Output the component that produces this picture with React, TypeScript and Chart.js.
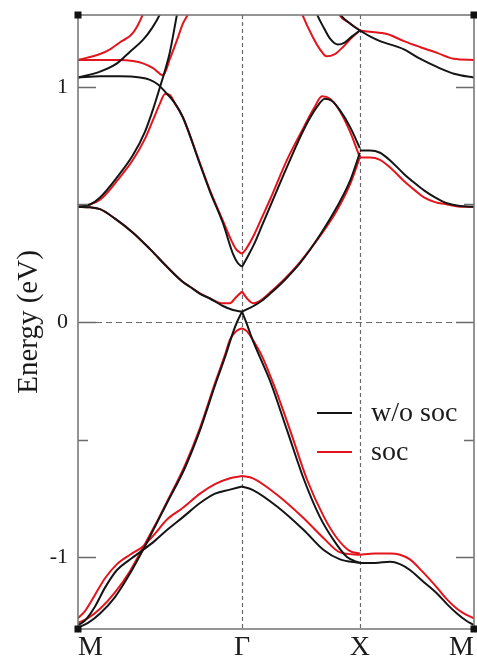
import React, { useEffect, useRef } from 'react';
import { Chart, registerables } from 'chart.js';

Chart.register(...registerables);

// ---- axes ----
const kPoints = [0, 1.414, 2.43, 3.414];
const kLabels = ['M', 'Γ', 'X', 'M'];
const yMin = -1.306;
const yMax = 1.306;
const yTickValues = [-1, 0, 1];
const yMinorValues = [-0.5, 0.5];
const yTitle = 'Energy (eV)';
const legendNames = ['w/o soc', 'soc'];
const seriesColors = ['#151515', '#e3141c'];

// ---- bands without SOC: [k, E] ----
const nsMG1 = [[0, 1.04], [0.19, 1.045], [0.362, 1.045], [0.535, 1.04], [0.621, 1.03], [0.69, 1.01], [0.75, 0.98], [0.836, 0.93], [0.905, 0.87], [1.052, 0.67], [1.138, 0.555], [1.25, 0.42], [1.336, 0.29], [1.379, 0.25], [1.414, 0.235]];
const nsMG2 = [[0, 0.49], [0.103, 0.5], [0.19, 0.53], [0.336, 0.615], [0.474, 0.71], [0.578, 0.81], [0.647, 0.905], [0.707, 1.0], [0.75, 1.07], [0.793, 1.15], [0.854, 1.31], [0.87, 1.35]];
const nsMG3 = [[0, 1.04], [0.19, 1.065], [0.336, 1.1], [0.448, 1.15], [0.56, 1.2], [0.638, 1.25], [0.707, 1.31], [0.73, 1.34]];
const nsMG4 = [[0, 0.49], [0.103, 0.488], [0.19, 0.48], [0.319, 0.44], [0.474, 0.38], [0.621, 0.31], [0.767, 0.235], [0.905, 0.17], [0.965, 0.15], [1.052, 0.12], [1.138, 0.1], [1.25, 0.068], [1.336, 0.051], [1.414, 0.044]];
const nsMGv1 = [[0, -1.3], [0.086, -1.28], [0.19, -1.24], [0.319, -1.17], [0.448, -1.07], [0.56, -0.97], [0.664, -0.87], [0.767, -0.77], [0.922, -0.62], [1.052, -0.46], [1.181, -0.27], [1.267, -0.15], [1.336, -0.045], [1.371, 0.0], [1.414, 0.044]];
const nsMGv2 = [[0, -1.29], [0.06, -1.27], [0.147, -1.21], [0.233, -1.13], [0.336, -1.055], [0.448, -1.01], [0.56, -0.97], [0.664, -0.93], [0.767, -0.885], [0.905, -0.83], [1.052, -0.77], [1.181, -0.73], [1.31, -0.713], [1.414, -0.7]];
const nsGX1 = [[1.414, 0.044], [1.483, 0.06], [1.569, 0.085], [1.655, 0.12], [1.785, 0.18], [1.914, 0.25], [2.086, 0.37], [2.233, 0.49], [2.345, 0.6], [2.43, 0.72]];
const nsGX2 = [[1.414, 0.235], [1.448, 0.265], [1.517, 0.33], [1.586, 0.41], [1.655, 0.49], [1.802, 0.66], [1.948, 0.82], [2.06, 0.915], [2.129, 0.95], [2.19, 0.94], [2.259, 0.9], [2.345, 0.83], [2.43, 0.74]];
const nsGX3 = [[2.04, 1.34], [2.06, 1.31], [2.121, 1.25], [2.173, 1.205], [2.241, 1.18], [2.302, 1.19], [2.362, 1.215], [2.43, 1.24]];
const nsGX4 = [[2.24, 1.33], [2.259, 1.31], [2.345, 1.27], [2.43, 1.24]];
const nsGXv1 = [[1.414, 0.044], [1.457, -0.01], [1.5, -0.07], [1.586, -0.17], [1.655, -0.25], [1.802, -0.46], [1.948, -0.67], [2.086, -0.83], [2.207, -0.93], [2.319, -1.0], [2.43, -1.025]];
const nsGXv2 = [[1.414, -0.7], [1.509, -0.715], [1.716, -0.785], [1.946, -0.885], [2.118, -0.97], [2.259, -1.01], [2.43, -1.025]];
const nsXM1 = [[2.43, 1.24], [2.517, 1.215], [2.604, 1.195], [2.81, 1.16], [2.948, 1.12], [3.095, 1.085], [3.25, 1.055], [3.414, 1.04]];
const nsXM2 = [[2.43, 0.73], [2.517, 0.73], [2.604, 0.72], [2.707, 0.68], [2.81, 0.63], [2.905, 0.59], [2.983, 0.56], [3.078, 0.53], [3.181, 0.505], [3.293, 0.493], [3.414, 0.49]];
const nsXMv = [[2.43, -1.025], [2.56, -1.025], [2.69, -1.02], [2.776, -1.03], [2.862, -1.055], [2.966, -1.1], [3.095, -1.155], [3.181, -1.2], [3.267, -1.24], [3.345, -1.27], [3.414, -1.29]];

// ---- bands with SOC: [k, E] ----
const sMG1 = [[0, 1.115], [0.19, 1.14], [0.276, 1.16], [0.362, 1.19], [0.474, 1.23], [0.56, 1.31], [0.58, 1.34]];
const sMG2 = [[0, 1.115], [0.19, 1.115], [0.362, 1.115], [0.474, 1.11], [0.56, 1.1], [0.647, 1.08], [0.733, 1.05], [0.793, 1.12], [0.854, 1.2], [0.905, 1.27], [0.948, 1.31], [0.97, 1.34]];
const sMG3 = [[0, 0.49], [0.103, 0.5], [0.19, 0.52], [0.336, 0.6], [0.474, 0.69], [0.578, 0.78], [0.647, 0.86], [0.707, 0.93], [0.75, 0.97], [0.793, 0.965], [0.836, 0.93], [0.905, 0.87], [1.052, 0.675], [1.138, 0.56], [1.25, 0.43], [1.31, 0.36], [1.362, 0.31], [1.414, 0.29]];
const sMG4 = [[0, 0.49], [0.103, 0.488], [0.19, 0.48], [0.319, 0.44], [0.474, 0.38], [0.621, 0.31], [0.767, 0.235], [0.905, 0.17], [0.965, 0.15], [1.052, 0.122], [1.138, 0.1], [1.241, 0.08], [1.31, 0.08], [1.362, 0.105], [1.414, 0.13]];
const sMGv1 = [[0, -1.28], [0.086, -1.26], [0.19, -1.22], [0.319, -1.15], [0.448, -1.06], [0.56, -0.96], [0.664, -0.865], [0.767, -0.765], [0.922, -0.61], [1.052, -0.45], [1.181, -0.26], [1.267, -0.14], [1.31, -0.075], [1.362, -0.04], [1.414, -0.026]];
const sMGv2 = [[0, -1.26], [0.06, -1.23], [0.147, -1.16], [0.233, -1.09], [0.336, -1.03], [0.448, -0.99], [0.56, -0.955], [0.664, -0.9], [0.767, -0.84], [0.905, -0.79], [1.052, -0.73], [1.181, -0.69], [1.31, -0.665], [1.414, -0.655]];
const sGX1 = [[1.414, 0.13], [1.457, 0.1], [1.509, 0.08], [1.569, 0.09], [1.655, 0.125], [1.785, 0.185], [1.914, 0.255], [2.086, 0.365], [2.233, 0.475], [2.345, 0.585], [2.43, 0.7]];
const sGX2 = [[1.414, 0.29], [1.448, 0.31], [1.517, 0.37], [1.586, 0.445], [1.655, 0.52], [1.802, 0.69], [1.948, 0.83], [2.035, 0.91], [2.104, 0.96], [2.173, 0.95], [2.241, 0.91], [2.345, 0.81], [2.43, 0.7]];
const sGX3 = [[1.91, 1.34], [1.932, 1.31], [2.026, 1.21], [2.086, 1.16], [2.143, 1.13], [2.215, 1.14], [2.285, 1.17], [2.362, 1.21], [2.43, 1.24]];
const sGX4 = [[2.23, 1.34], [2.25, 1.31], [2.345, 1.27], [2.43, 1.24]];
const sGXv1 = [[1.414, -0.026], [1.457, -0.04], [1.5, -0.07], [1.586, -0.145], [1.69, -0.27], [1.828, -0.46], [1.974, -0.67], [2.121, -0.83], [2.233, -0.92], [2.345, -0.975], [2.43, -0.985]];
const sGXv2 = [[1.414, -0.655], [1.509, -0.665], [1.716, -0.735], [1.946, -0.835], [2.118, -0.92], [2.259, -0.98], [2.43, -0.99]];
const sXM1 = [[2.43, 1.24], [2.517, 1.235], [2.664, 1.225], [2.81, 1.195], [2.948, 1.17], [3.095, 1.145], [3.24, 1.12], [3.414, 1.115]];
const sXM2 = [[2.43, 0.7], [2.517, 0.7], [2.604, 0.69], [2.707, 0.65], [2.81, 0.6], [2.905, 0.56], [2.983, 0.53], [3.078, 0.51], [3.181, 0.5], [3.293, 0.49], [3.414, 0.49]];
const sXMv = [[2.43, -0.99], [2.56, -0.985], [2.69, -0.985], [2.776, -0.99], [2.862, -1.01], [2.966, -1.06], [3.095, -1.13], [3.181, -1.18], [3.267, -1.22], [3.345, -1.245], [3.414, -1.26]];

const noSocBands = [nsMG1, nsMG2, nsMG3, nsMG4, nsMGv1, nsMGv2, nsGX1, nsGX2, nsGX3, nsGX4, nsGXv1, nsGXv2, nsXM1, nsXM2, nsXMv];
const socBands = [sMG1, sMG2, sMG3, sMG4, sMGv1, sMGv2, sGX1, sGX2, sGX3, sGX4, sGXv1, sGXv2, sXM1, sXM2, sXMv];

const SERIF = '"Liberation Serif", "Times New Roman", "DejaVu Serif", serif';

const framePlugin = {
  id: 'bandFrame',
  beforeDatasetsDraw(chart: any) {
    const { ctx, chartArea: a, scales } = chart;
    const x = scales.x;
    const y = scales.y;
    ctx.save();
    ctx.strokeStyle = '#6a6a6a';
    ctx.lineWidth = 1.2;
    ctx.setLineDash([4, 3]);
    [kPoints[1], kPoints[2]].forEach((k) => {
      const px = Math.round(x.getPixelForValue(k)) + 0.5;
      ctx.beginPath();
      ctx.moveTo(px, a.top);
      ctx.lineTo(px, a.bottom);
      ctx.stroke();
    });
    ctx.setLineDash([6, 4]);
    const py = Math.round(y.getPixelForValue(0)) + 0.5;
    ctx.beginPath();
    ctx.moveTo(a.left + 18, py);
    ctx.lineTo(a.right - 18, py);
    ctx.stroke();
    ctx.restore();
  },
  afterDraw(chart: any) {
    const { ctx, chartArea: a, scales } = chart;
    const y = scales.y;
    ctx.save();
    // inner ticks
    ctx.strokeStyle = '#6a6a6a';
    ctx.lineWidth = 1.5;
    const drawTick = (v: number, len: number) => {
      const py = Math.round(y.getPixelForValue(v)) + 0.5;
      ctx.beginPath();
      ctx.moveTo(a.left, py);
      ctx.lineTo(a.left + len, py);
      ctx.moveTo(a.right, py);
      ctx.lineTo(a.right - len, py);
      ctx.stroke();
    };
    yTickValues.forEach((v) => drawTick(v, 18));
    yMinorValues.forEach((v) => drawTick(v, 10));
    // frame
    ctx.lineWidth = 1.6;
    ctx.strokeStyle = '#7a7a7a';
    ctx.strokeRect(a.left, a.top, a.right - a.left, a.bottom - a.top);
    // corner markers
    ctx.fillStyle = '#111';
    [[a.left, a.top], [a.right, a.top], [a.left, a.bottom], [a.right, a.bottom]].forEach(([cx, cy]) => {
      ctx.fillRect(cx - 3.5, cy - 3.5, 7, 7);
    });
    // legend
    ctx.font = `28px ${SERIF}`;
    ctx.textBaseline = 'alphabetic';
    ctx.textAlign = 'left';
    legendNames.forEach((name, i) => {
      const ly = a.top + 398 + i * 39;
      ctx.strokeStyle = seriesColors[i];
      ctx.lineWidth = 2;
      ctx.beginPath();
      ctx.moveTo(a.left + 239, ly);
      ctx.lineTo(a.left + 274, ly);
      ctx.stroke();
      ctx.fillStyle = '#1a1a1a';
      ctx.fillText(name, a.left + 293, ly + 8);
    });
    ctx.restore();
  },
};

function makeDatasets() {
  const ds: any[] = [];
  const groups = [noSocBands, socBands];
  groups.forEach((bands, gi) => {
    bands.forEach((band) => {
      ds.push({
        label: legendNames[gi],
        data: band.map(([k, e]) => ({ x: k, y: e })),
        borderColor: seriesColors[gi],
        borderWidth: 2,
        pointRadius: 0,
        fill: false,
        cubicInterpolationMode: 'monotone',
      });
    });
  });
  return ds;
}

export default function App() {
  const ref = useRef<HTMLCanvasElement | null>(null);
  useEffect(() => {
    if (!ref.current) return;
    const chart = new Chart(ref.current, {
      type: 'line',
      data: { datasets: makeDatasets() },
      options: {
        responsive: false,
        animation: false,
        layout: { padding: { top: 15, right: 3, left: 0, bottom: 0 } },
        plugins: { legend: { display: false }, tooltip: { enabled: false } },
        scales: {
          x: {
            type: 'linear',
            min: kPoints[0],
            max: kPoints[kPoints.length - 1],
            afterBuildTicks: (scale: any) => {
              scale.ticks = kPoints.map((v) => ({ value: v }));
            },
            afterFit: (scale: any) => {
              scale.height = 30;
              scale.paddingLeft = 0;
              scale.paddingRight = 0;
            },
            grid: { display: false, drawTicks: false },
            border: { display: false },
            ticks: {
              autoSkip: false,
              maxRotation: 0,
              align: 'inner',
              padding: 2,
              color: '#1a1a1a',
              font: { family: SERIF, size: 28 },
              callback: (_v: any, i: number) => kLabels[i],
            },
          },
          y: {
            type: 'linear',
            min: yMin,
            max: yMax,
            afterBuildTicks: (scale: any) => {
              scale.ticks = yTickValues.map((v) => ({ value: v }));
            },
            afterFit: (scale: any) => {
              scale.width = 78;
              scale.paddingTop = 0;
              scale.paddingBottom = 0;
            },
            grid: { display: false, drawTicks: false },
            border: { display: false },
            ticks: {
              padding: 10,
              color: '#1a1a1a',
              font: { family: SERIF, size: 22 },
              callback: (v: any) => String(v),
            },
            title: {
              display: true,
              text: yTitle,
              color: '#1a1a1a',
              font: { family: SERIF, size: 29 },
              padding: { top: 12, bottom: 0 },
            },
          },
        },
      } as any,
      plugins: [framePlugin],
    });
    return () => chart.destroy();
  }, []);
  return (
    <div style={{ position: 'absolute', left: 0, top: 0, width: 477, height: 659, background: '#fff' }}>
      <canvas ref={ref} width={477} height={659} style={{ display: 'block' }} />
    </div>
  );
}
